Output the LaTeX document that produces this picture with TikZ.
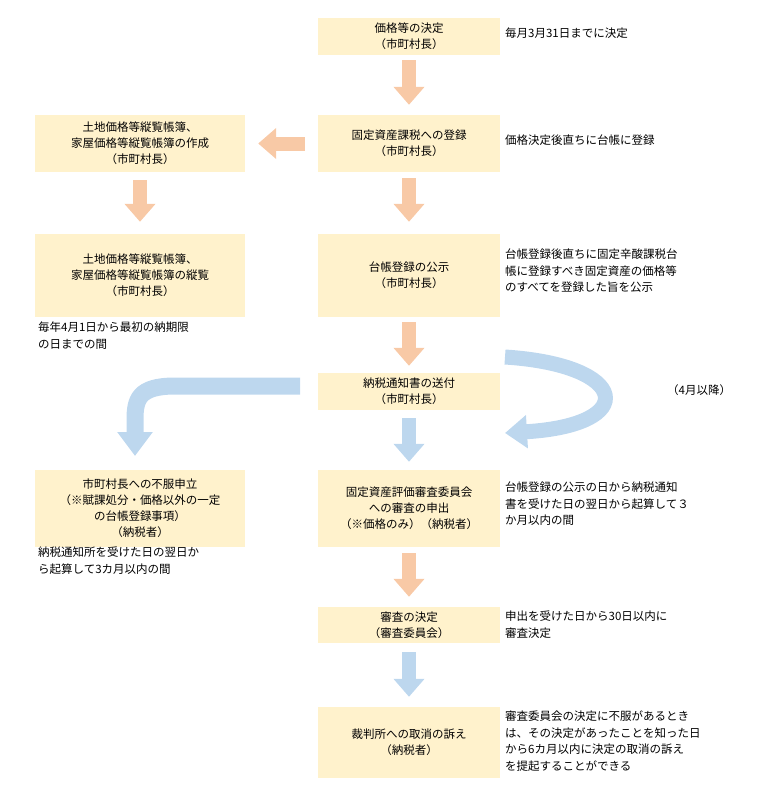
\documentclass[tikz,border=0pt]{standalone}
\usepackage{fontspec}
\setmainfont{Noto Sans CJK JP}
\usetikzlibrary{arrows.meta}
\definecolor{boxfill}{HTML}{FFF2CC}
\definecolor{orarrow}{HTML}{F8C9A6}
\definecolor{blarrow}{HTML}{BDD7EE}
\tikzset{
  box/.style={fill=boxfill, minimum width=182pt, align=center, font=\fontsize{11.5}{16}\selectfont},
  lbox/.style={fill=boxfill, minimum width=210pt, align=center, font=\fontsize{11.5}{16}\selectfont},
  note/.style={anchor=north west, align=left, inner sep=0pt, font=\fontsize{11.5}{16.5}\selectfont},
  orflow/.style={draw=orarrow, line width=14pt, -{Triangle[width=30pt,length=18pt]}},
  blflow/.style={draw=blarrow, line width=14pt, -{Triangle[width=30pt,length=18pt]}}
}
\begin{document}
\begin{tikzpicture}[x=1pt,y=-1pt]
  \useasboundingbox (0,0) rectangle (766,795);

  %BOXES
  \node[box, minimum height=37pt] (kettei) at (409,36.5) {価格等の決定\\（市町村長）};
  \node[box, minimum height=57pt] (toroku) at (409,143.5) {固定資産課税への登録\\（市町村長）};
  \node[box, minimum height=83pt] (koji) at (409,275.5) {台帳登録の公示\\（市町村長）};
  \node[box, minimum height=37pt] (sofu) at (409,391.5) {納税通知書の送付\\（市町村長）};
  \node[box, minimum height=77pt] (shinsa) at (409,508.5) {固定資産評価審査委員会\\への審査の申出\\（※価格のみ）（納税者）};
  \node[box, minimum height=36pt] (shinketsu) at (409,625) {審査の決定\\（審査委員会）};
  \node[box, minimum height=71pt] (sosho) at (409,742.5) {裁判所への取消の訴え\\（納税者）};
  \node[lbox, minimum height=57pt] (sakusei) at (140,143.5) {土地価格等縦覧帳簿、\\家屋価格等縦覧帳簿の作成\\（市町村長）};
  \node[lbox, minimum height=83pt] (juran) at (140,275.5) {土地価格等縦覧帳簿、\\家屋価格等縦覧帳簿の縦覧\\（市町村長）};
  \node[lbox, minimum height=77pt] (fufuku) at (140,508.5) {市町村長への不服申立\\（※賦課処分・価格以外の一定\\の台帳登録事項）\\（納税者）};

  %NOTES
  \node[note] (n1) at (505,28) {毎月3月31日までに決定};
  \node[note] (n2) at (505,135) {価格決定後直ちに台帳に登録};
  \node[note] (n3) at (505,249) {台帳登録後直ちに固定辛酸課税台\\帳に登録すべき固定資産の価格等\\のすべてを登録した旨を公示};
  \node[note] (n4) at (38,322) {毎年4月1日から最初の納期限\\の日までの間};
  \node[note] (n5) at (667,384) {（4月以降）};
  \node[note] (n6) at (505,482) {台帳登録の公示の日から納税通知\\書を受けた日の翌日から起算して３\\か月以内の間};
  \node[note] (n7) at (38,547) {納税通知所を受けた日の翌日か\\ら起算して3カ月以内の間};
  \node[note] (n8) at (505,611) {申出を受けた日から30日以内に\\審査決定};
  \node[note] (n9) at (505,711) {審査委員会の決定に不服があるとき\\は、その決定があったことを知った日\\から6カ月以内に決定の取消の訴え\\を提起することができる};

  %ARROWS
  \draw[orflow] ([yshift=-5pt]kettei.south) -- ([yshift=10pt]toroku.north);
  \draw[orflow] ([xshift=-13pt]toroku.west) -- ([xshift=13pt]sakusei.east);
  \draw[orflow] ([yshift=-8pt]sakusei.south) -- ([yshift=12pt]juran.north);
  \draw[orflow] ([yshift=-6pt]toroku.south) -- ([yshift=12pt]koji.north);
  \draw[orflow] ([yshift=-5pt]koji.south) -- ([yshift=7pt]sofu.north);
  \draw[blflow] ([yshift=-8pt]sofu.south) -- ([yshift=8pt]shinsa.north);
  \draw[orflow] ([yshift=-6pt]shinsa.south) -- ([yshift=10pt]shinketsu.north);
  \draw[blflow] ([yshift=-9pt]shinketsu.south) -- ([yshift=10pt]sosho.north);
  \draw[draw=blarrow, line width=17pt, -{Triangle[width=34pt,length=24pt]}]
    (300,386) -- (175,386) .. controls (138,386) and (135,400) .. (135,420) -- (135,456);
  \draw[draw=blarrow, line width=15pt, -{Triangle[width=32pt,length=22pt]}]
    (505,357) .. controls (630,365) and (640,425) .. (505,433);
\end{tikzpicture}
\end{document}
